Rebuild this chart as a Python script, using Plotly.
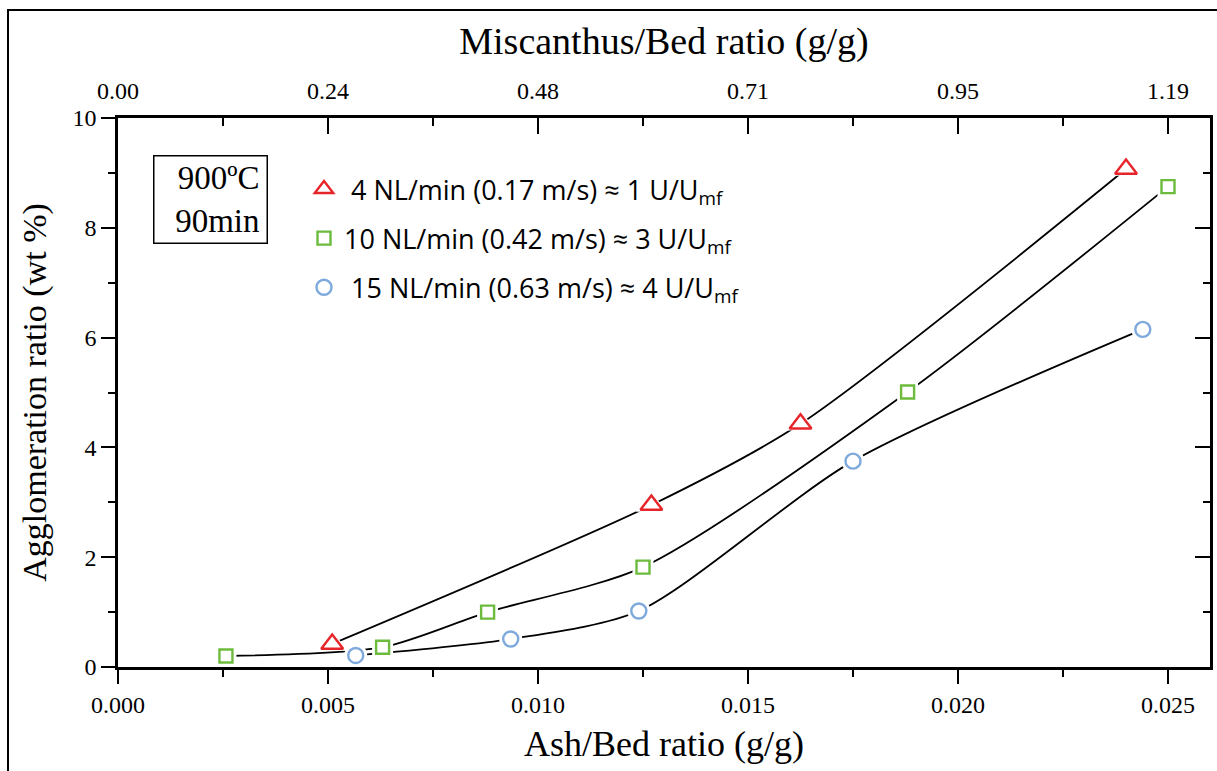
import plotly.graph_objects as go

# ---- data ----
ash_4 = [0.0051, 0.0127, 0.01625, 0.0240]
agg_4 = [0.42, 2.95, 4.43, 9.07]

ash_10 = [0.00257, 0.0063, 0.0088, 0.0125, 0.0188, 0.0250]
agg_10 = [0.20, 0.36, 1.00, 1.82, 5.01, 8.75]

ash_15 = [0.00566, 0.00935, 0.0124, 0.0175, 0.0244]
agg_15 = [0.21, 0.51, 1.02, 3.75, 6.15]

names = ["&#160;4 NL/min (0.17 m/s) ≈ 1 U/U<sub>mf</sub>",
         "10 NL/min (0.42 m/s) ≈ 3 U/U<sub>mf</sub>",
         "&#160;15 NL/min (0.63 m/s) ≈ 4 U/U<sub>mf</sub>"]
colors = ["#E8242B", "#6CBB3C", "#7EA9DC"]
symbols = ["triangle-up-open", "square-open", "circle-open"]
sizes = [19, 13, 15]

bottom_ticks = [0.000, 0.005, 0.010, 0.015, 0.020, 0.025]
bottom_ticktext = ["0.000", "0.005", "0.010", "0.015", "0.020", "0.025"]
top_ticktext = ["0.00", "0.24", "0.48", "0.71", "0.95", "1.19"]
minor_x = [0.0025, 0.0075, 0.0125, 0.0175, 0.0225]

SERIF = "Liberation Serif, Times New Roman, serif"
SANS = "Open Sans, Carlito, Calibri, sans-serif"

xs = [ash_4, ash_10, ash_15]
ys = [agg_4, agg_10, agg_15]

W, H = 1217, 771
L, R, T, B = 118, 7, 118, 104
PW, PH = W - L - R, H - T - B


def px_x(p):
    return (p - L) / PW


def px_y(p):
    return (H - B - p) / PH


fig = go.Figure()

# smooth connecting lines
for x, y in zip(xs, ys):
    fig.add_trace(go.Scatter(x=x, y=y, mode="lines",
                             line=dict(color="black", width=1.8, shape="spline", smoothing=0.75),
                             showlegend=False, hoverinfo="skip"))

# white underlays to create gaps between lines and markers
under_sym = ["triangle-up", "square", "circle"]
for x, y, s, sz in zip(xs, ys, under_sym, sizes):
    fig.add_trace(go.Scatter(x=x, y=y, mode="markers",
                             marker=dict(symbol=s, size=sz + 8, color="white",
                                         line=dict(width=0)),
                             showlegend=False, hoverinfo="skip"))

# coloured open markers
for i, (x, y) in enumerate(zip(xs, ys)):
    fig.add_trace(go.Scatter(x=x, y=y, mode="markers", name=names[i],
                             legendgroup=f"g{i}",
                             marker=dict(symbol=symbols[i], size=sizes[i], color=colors[i],
                                         line=dict(width=2.4, color=colors[i]))))

# invisible trace to activate secondary axes
fig.add_trace(go.Scatter(x=[0, 0.026], y=[0, 10], xaxis="x2", yaxis="y2", mode="markers",
                         marker=dict(opacity=0), showlegend=False, hoverinfo="skip"))

axis_common = dict(showline=True, linecolor="black", linewidth=2.6, showgrid=False,
                   zeroline=False, tickcolor="black", tickwidth=2.4, automargin=False,
                   tickfont=dict(family=SERIF, size=24, color="black"))

fig.update_layout(
    width=W, height=H,
    paper_bgcolor="white", plot_bgcolor="white",
    margin=dict(l=L, r=R, t=T, b=B),
    xaxis=dict(range=[0, 0.026], tickvals=bottom_ticks, ticktext=bottom_ticktext,
               ticks="outside", ticklen=14,
               minor=dict(tickvals=minor_x, ticks="outside", ticklen=7,
                          tickcolor="black", tickwidth=2.4),
               title=dict(text="Ash/Bed ratio (g/g)", standoff=15,
                          font=dict(family=SERIF, size=36, color="black")),
               **axis_common),
    xaxis2=dict(range=[0, 0.026], overlaying="x", side="top", anchor="y",
                tickvals=bottom_ticks, ticktext=top_ticktext,
                ticks="inside", ticklen=16, ticklabelstandoff=7,
                minor=dict(tickvals=minor_x, ticks="inside", ticklen=8,
                           tickcolor="black", tickwidth=2.4),
                title=dict(text="Miscanthus/Bed ratio (g/g)", standoff=12,
                           font=dict(family=SERIF, size=38, color="black")),
                **axis_common),
    yaxis=dict(range=[0, 10], tickvals=[0, 2, 4, 6, 8, 10],
               ticks="outside", ticklen=14,
               minor=dict(tickvals=[1, 3, 5, 7, 9], ticks="outside", ticklen=7,
                          tickcolor="black", tickwidth=2.4),
               title=dict(text="Agglomeration ratio (wt %)", standoff=16,
                          font=dict(family=SERIF, size=34, color="black")),
               **axis_common),
    yaxis2=dict(range=[0, 10], overlaying="y", side="right", anchor="x",
                tickvals=[0, 2, 4, 6, 8, 10], showticklabels=False,
                ticks="inside", ticklen=15,
                minor=dict(tickvals=[1, 3, 5, 7, 9], ticks="inside", ticklen=7,
                           tickcolor="black", tickwidth=2.4),
                **axis_common),
    legend=dict(x=px_x(304), y=px_y(165), xanchor="left", yanchor="top",
                bgcolor="rgba(0,0,0,0)", borderwidth=0,
                font=dict(family=SANS, size=27, color="black"),
                traceorder="grouped", tracegroupgap=11, itemwidth=30),
    showlegend=True,
)

# text box "900ºC / 90min"
fig.add_annotation(xref="paper", yref="paper", x=px_x(210), y=px_y(199.5),
                   xanchor="center", yanchor="middle",
                   text="900ºC<br>90min", showarrow=False, align="right",
                   width=98, height=72,
                   font=dict(family=SERIF, size=33, color="black"),
                   bordercolor="black", borderwidth=1.5, borderpad=7, bgcolor="white")

# outer frame
fig.add_shape(type="rect", xref="paper", yref="paper",
              x0=px_x(8), x1=px_x(1240), y0=px_y(800), y1=px_y(10),
              line=dict(color="black", width=2), layer="above")

fig.write_html("out.html", config={"displayModeBar": False},
               post_script="document.body.style.margin='0px';document.body.style.overflow='hidden';")
